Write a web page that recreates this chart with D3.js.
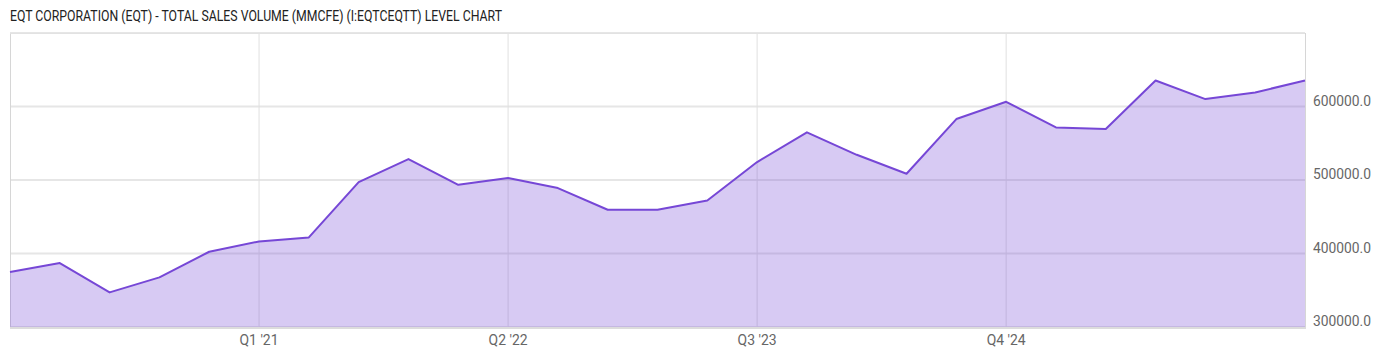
<!DOCTYPE html>
<html>
<head>
<meta charset="utf-8">
<script src="https://cdn.jsdelivr.net/npm/d3@7"></script>
<style>
  body { margin: 0; background: #fff; }
  svg { display: block; font-family: Roboto, "Liberation Sans", sans-serif; }
</style>
</head>
<body>
<svg id="chart" width="1400" height="357"></svg>
<script>
var quarters = ["Q4 '19","Q1 '20","Q2 '20","Q3 '20","Q4 '20","Q1 '21","Q2 '21","Q3 '21","Q4 '21",
                "Q1 '22","Q2 '22","Q3 '22","Q4 '22","Q1 '23","Q2 '23","Q3 '23","Q4 '23","Q1 '24",
                "Q2 '24","Q3 '24","Q4 '24","Q1 '25","Q2 '25","Q3 '25","Q4 '25","Q1 '26","Q2 '26"];
var salesVolume = [374800, 387000, 347100, 367500, 402400, 416400, 421900, 497200, 528500,
                   493500, 502600, 489000, 459500, 459500, 472200, 524400, 564900, 534300,
                   508500, 582900, 606400, 571500, 569300, 635400, 610100, 619100, 635400];
var xTicks = ["Q1 '21", "Q2 '22", "Q3 '23", "Q4 '24"];
var yTicks = [300000, 400000, 500000, 600000];
var yDomain = [300000, 700000];
var title = "EQT CORPORATION (EQT) - TOTAL SALES VOLUME (MMCFE) (I:EQTCEQTT) LEVEL CHART";

var svg = d3.select("#chart"),
    plotLeft = 10, plotRight = 1305, plotTop = 33, plotBottom = 327,
    lineColor = "#7647d6";

var x = d3.scalePoint().domain(quarters).range([plotLeft, plotRight]).padding(0);
var y = d3.scaleLinear().domain(yDomain).range([plotBottom, plotTop]);

var data = quarters.map(function (q, i) { return { q: q, v: salesVolume[i] }; });

// title
svg.append("text")
    .attr("x", 10).attr("y", 21)
    .attr("font-size", 15)
    .attr("fill", "#222")
    .attr("textLength", 492)
    .attr("lengthAdjust", "spacingAndGlyphs")
    .text(title);

// grid
var grid = svg.append("g");
grid.selectAll(".hg").data(yTicks.concat([yDomain[1]])).enter().append("line")
    .attr("x1", plotLeft).attr("x2", plotRight)
    .attr("y1", function (d) { return y(d); })
    .attr("y2", function (d) { return y(d); })
    .attr("stroke", "#e6e6e6").attr("stroke-width", 2);
grid.selectAll(".vg").data(xTicks).enter().append("line")
    .attr("x1", function (d) { return x(d); })
    .attr("x2", function (d) { return x(d); })
    .attr("y1", plotTop).attr("y2", plotBottom)
    .attr("stroke", "#e0e0e0").attr("stroke-width", 1);

// borders
svg.append("line").attr("x1", plotLeft + 0.5).attr("x2", plotLeft + 0.5).attr("y1", plotTop).attr("y2", plotBottom)
    .attr("stroke", "#d6d6d6");
svg.append("line").attr("x1", plotRight + 0.5).attr("x2", plotRight + 0.5).attr("y1", plotTop).attr("y2", plotBottom)
    .attr("stroke", "#d6d6d6");
svg.append("line").attr("x1", plotLeft).attr("x2", plotRight).attr("y1", plotTop + 0.5).attr("y2", plotTop + 0.5)
    .attr("stroke", "#e2e2e2");

// area + line
var area = d3.area()
    .x(function (d) { return x(d.q); })
    .y0(y(yDomain[0]))
    .y1(function (d) { return y(d.v); });
var line = d3.line()
    .x(function (d) { return x(d.q); })
    .y(function (d) { return y(d.v); });

svg.append("path").datum(data)
    .attr("d", area)
    .attr("fill", lineColor)
    .attr("fill-opacity", 0.29);

svg.append("path").datum(data)
    .attr("d", line)
    .attr("fill", "none")
    .attr("stroke", lineColor)
    .attr("stroke-width", 2)
    .attr("stroke-linejoin", "round");

// bottom axis line
svg.append("line").attr("x1", plotLeft).attr("x2", plotRight + 1).attr("y1", plotBottom + 1).attr("y2", plotBottom + 1)
    .attr("stroke", "#dcdcdc").attr("stroke-width", 2);

// x labels
svg.selectAll(".xl").data(xTicks).enter().append("text")
    .attr("x", function (d) { return x(d); })
    .attr("y", 345)
    .attr("text-anchor", "middle")
    .attr("font-size", 14)
    .attr("fill", "#666")
    .attr("textLength", 39)
    .attr("lengthAdjust", "spacingAndGlyphs")
    .text(function (d) { return d; });

// y labels
svg.selectAll(".yl").data(yTicks).enter().append("text")
    .attr("x", 1313)
    .attr("y", function (d) { return Math.min(y(d) - 1, 330); })
    .attr("font-size", 15)
    .attr("fill", "#666")
    .attr("textLength", 58)
    .attr("lengthAdjust", "spacingAndGlyphs")
    .text(function (d) { return d3.format(".1f")(d); });
</script>
</body>
</html>
